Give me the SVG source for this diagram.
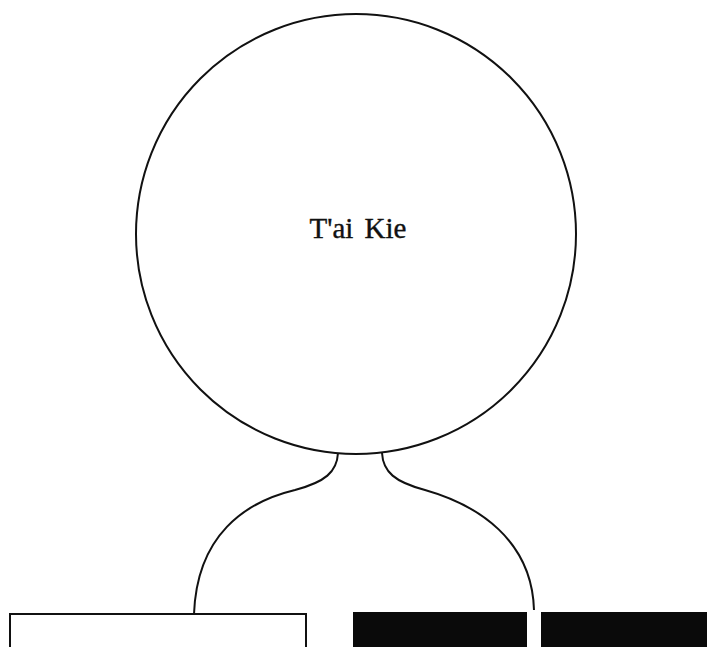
<svg xmlns="http://www.w3.org/2000/svg" width="707" height="647" viewBox="0 0 707 647">
<style>
.ln{fill:none;stroke:#111;stroke-width:2}
.lbl{font-family:"Liberation Serif","Times New Roman",serif;font-size:29px;fill:#111;stroke:#111;stroke-width:0.4;word-spacing:4px}
.blk{fill:#0a0a0a}
</style>
<rect width="707" height="647" fill="#fff"/>
<g id="taikie">
<circle class="ln" cx="356" cy="234" r="220"/>
<text class="lbl" x="358" y="238" text-anchor="middle">T'ai Kie</text>
</g>
<g id="connectors">
<path class="ln" d="M338,453 C337,472 325,482 295,490 C245,502 197,535 194,614"/>
<path class="ln" d="M382,453 C383,472 395,482 425,490 C478,505 532,540 534,610"/>
</g>
<g id="yang">
<rect class="ln" x="10" y="614" width="296" height="40" fill="#fff"/>
</g>
<g id="yin">
<rect class="blk" x="353" y="612" width="174" height="40"/>
<rect class="blk" x="541" y="612" width="170" height="40"/>
</g>
</svg>
